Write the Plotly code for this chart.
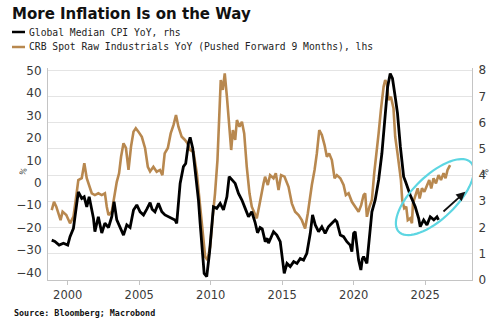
import math
import plotly.graph_objects as go

# ---------------- data ----------------
cpi_year = [1998.88, 1999.1, 1999.4, 1999.7, 2000.0, 2000.16, 2000.4, 2000.63, 2000.74, 2000.98,
            2001.15, 2001.33, 2001.5, 2001.8, 2001.9, 2002.14, 2002.38, 2002.6, 2002.85, 2003.08,
            2003.24, 2003.43, 2003.66, 2003.9, 2004.13, 2004.36, 2004.6, 2004.83, 2005.06, 2005.3,
            2005.53, 2005.76, 2005.9, 2006.1, 2006.34, 2006.58, 2006.8, 2007.04, 2007.27, 2007.5,
            2007.62, 2007.74, 2007.86, 2008.09, 2008.25, 2008.44, 2008.56, 2008.74, 2008.91, 2009.14,
            2009.26, 2009.37, 2009.54, 2009.72, 2009.91, 2010.07, 2010.19, 2010.42, 2010.66, 2010.89,
            2011.13, 2011.29, 2011.48, 2011.71, 2011.94, 2012.18, 2012.41, 2012.64, 2012.87, 2013.1,
            2013.27, 2013.45, 2013.6, 2013.81, 2013.95, 2014.04, 2014.39, 2014.62, 2014.86, 2015.02,
            2015.14, 2015.33, 2015.56, 2015.8, 2016.03, 2016.26, 2016.49, 2016.72, 2016.96, 2017.12,
            2017.31, 2017.54, 2017.77, 2018.0, 2018.23, 2018.47, 2018.7, 2018.82, 2019.06, 2019.29,
            2019.52, 2019.75, 2019.87, 2019.99, 2020.1, 2020.34, 2020.5, 2020.6, 2020.69, 2020.92,
            2021.04, 2021.27, 2021.5, 2021.74, 2021.97, 2022.2, 2022.37, 2022.55, 2022.71, 2022.9,
            2023.06, 2023.26, 2023.49, 2023.62, 2023.95, 2024.3, 2024.54, 2024.65, 2024.89, 2025.12,
            2025.35, 2025.6, 2025.82, 2025.93]
cpi_value = [1.52, 1.47, 1.33, 1.40, 1.33, 1.65, 1.97, 2.79, 3.36, 3.11,
             3.17, 2.79, 3.17, 2.35, 1.84, 2.41, 1.79, 2.17, 2.00, 2.41,
             2.98, 2.29, 2.03, 1.71, 2.10, 2.00, 2.67, 2.86, 2.60, 2.48,
             2.70, 2.95, 2.70, 2.60, 2.92, 2.60, 2.48, 2.41, 2.35, 2.29,
             2.16, 2.92, 3.68, 4.32, 4.44, 5.21, 5.44, 5.02, 4.19, 3.05,
             2.16, 1.27, 0.25, 0.13, 1.02, 2.03, 2.79, 2.73, 2.92, 2.67,
             3.17, 3.94, 3.81, 3.68, 3.30, 3.05, 2.73, 2.41, 2.60, 2.20,
             1.80, 2.00, 1.95, 1.46, 1.59, 1.40, 1.84, 1.71, 1.46, 0.63,
             0.25, 0.63, 0.51, 0.70, 0.63, 0.82, 0.76, 1.02, 1.78, 2.48,
             2.10, 1.84, 2.03, 1.78, 2.03, 2.16, 2.29, 2.22, 1.71, 1.65,
             1.46, 1.33, 1.08, 1.78, 1.84, 0.76, 0.38, 0.80, 0.89, 0.63,
             1.27, 2.60, 3.05, 3.81, 4.83, 6.22, 7.36, 7.87, 7.68, 6.98,
             6.35, 5.08, 3.94, 3.75, 3.24, 2.79, 2.35, 2.03, 2.29, 2.10,
             2.41, 2.29, 2.41, 2.29]

crb_year = [1998.88, 1999.04, 1999.2, 1999.36, 1999.5, 1999.64, 1999.9, 2000.16, 2000.4, 2000.56,
            2000.74, 2000.98, 2001.16, 2001.33, 2001.5, 2001.68, 2001.9, 2002.14, 2002.38, 2002.6,
            2002.73, 2002.85, 2003.08, 2003.3, 2003.43, 2003.59, 2003.73, 2003.9, 2004.07, 2004.25,
            2004.43, 2004.6, 2004.76, 2004.94, 2005.18, 2005.41, 2005.6, 2005.76, 2005.99, 2006.22,
            2006.45, 2006.62, 2006.78, 2007.0, 2007.2, 2007.4, 2007.57, 2007.74, 2007.97, 2008.2,
            2008.37, 2008.56, 2008.79, 2009.03, 2009.26, 2009.45, 2009.61, 2009.77, 2009.96, 2010.14,
            2010.3, 2010.47, 2010.59, 2010.7, 2010.84, 2010.98, 2011.13, 2011.29, 2011.43, 2011.55,
            2011.71, 2011.83, 2012.01, 2012.18, 2012.34, 2012.52, 2012.71, 2012.87, 2013.03, 2013.22,
            2013.4, 2013.53, 2013.69, 2013.8, 2013.99, 2014.15, 2014.39, 2014.55, 2014.74, 2014.92,
            2015.16, 2015.44, 2015.67, 2015.9, 2016.14, 2016.37, 2016.6, 2016.79, 2016.96, 2017.07,
            2017.26, 2017.42, 2017.59, 2017.77, 2017.96, 2018.12, 2018.28, 2018.47, 2018.66, 2018.82,
            2019.06, 2019.29, 2019.45, 2019.64, 2019.87, 2020.1, 2020.34, 2020.52, 2020.69, 2020.8,
            2020.92, 2021.1, 2021.27, 2021.43, 2021.57, 2021.74, 2021.9, 2022.09, 2022.2, 2022.32,
            2022.43, 2022.6, 2022.78, 2022.9, 2023.06, 2023.2, 2023.3, 2023.39, 2023.53, 2023.67,
            2023.78, 2023.95, 2024.07, 2024.14, 2024.3, 2024.47, 2024.61, 2024.77, 2024.94, 2025.12,
            2025.28, 2025.42, 2025.58, 2025.75, 2025.93, 2026.1, 2026.28, 2026.42, 2026.56, 2026.74]
crb_value = [-12.2, -8.5, -10.7, -14.4, -16.7, -12.9, -14.4, -18.1, -15.1, -7.7,
             1.2, 2.0, 8.7, 2.0, -1.0, -4.7, -5.5, -4.7, -5.5, -4.7,
             -10.7, -14.4, -12.9, -4.7, 0.4, 4.2, 11.6, 17.6, 15.5, 5.7,
             16.3, 22.8, 24.3, 22.8, 20.5, 15.4, 7.1, 5.0, 7.1, 4.9,
             5.7, 3.4, 13.1, 15.5, 22.0, 25.8, 30.2, 25.0, 20.5, 19.1,
             17.6, 14.6, 13.8, 4.2, -10.7, -22.6, -33.0, -34.5, -28.6, -15.2,
             -4.7, 10.1, 32.5, 45.8, 41.4, 48.8, 38.4, 23.5, 14.6, 23.5,
             19.1, 28.0, 25.0, 27.2, 22.0, 7.1, -4.7, -10.7, -13.0, -15.9,
             -10.0, -4.7, -0.3, 2.7, -1.0, 3.4, 2.0, 4.2, -3.3, 3.4,
             2.7, -1.8, -9.2, -12.9, -14.4, -16.7, -20.4, -13.6, -4.7, -1.0,
             5.7, 13.1, 23.5, 21.3, 16.8, 11.6, 13.1, 10.1, 2.0, 3.4,
             2.0, -1.0, -5.5, -4.7, -8.5, -10.7, -12.9, -10.0, -5.5, -4.7,
             -15.2, -10.7, -7.7, 4.2, 11.6, 22.0, 32.5, 42.9, 45.8, 44.4,
             36.9, 38.4, 33.2, 20.5, 13.1, 5.7, 1.2, -7.7, -11.4, -10.7,
             -16.7, -15.9, -18.1, -9.2, -6.2, -2.5, -7.0, -2.5, -4.0, -1.0,
             1.2, -2.5, 2.0, -0.3, 3.4, 1.2, 4.2, 2.0, 5.7, 7.9]

x_ticks = [2000, 2005, 2010, 2015, 2020, 2025]
left_ticks = [50, 40, 30, 20, 10, 0, -10, -20, -30, -40]
right_ticks = [0, 1, 2, 3, 4, 5, 6, 7, 8]

title_text = "More Inflation Is on the Way"
cpi_name = "Global Median CPI YoY, rhs"
crb_name = "CRB Spot Raw Industrials YoY (Pushed Forward 9 Months), lhs"
source_text = "Source: Bloomberg; Macrobond"

# ---------------- layout geometry ----------------
W, H = 500, 322
ML, MR, MT, MB = 48, 28, 68, 42
PW, PH = W - ML - MR, H - MT - MB
x_range = [1998.62, 2028.27]
yl_range = [-43.4, 51.2]
yr_range = [0, 8.08]

BLACK = "#000000"
BROWN = "#b8884f"
CYAN = "#5dd6e2"
X_TICK_FONT = dict(family="DejaVu Sans", size=11.5, color="#3a3a3a")
Y_TICK_FONT = dict(family="DejaVu Sans", size=12, color="#3a3a3a")


def paper_x(px):
    return (px - ML) / PW


def paper_y(py):
    return (H - MB - py) / PH


fig = go.Figure()
fig.add_trace(go.Scatter(x=crb_year, y=crb_value, mode="lines", name=crb_name,
                         line=dict(color=BROWN, width=2.6), yaxis="y"))
fig.add_trace(go.Scatter(x=cpi_year, y=cpi_value, mode="lines", name=cpi_name,
                         line=dict(color=BLACK, width=2.8), yaxis="y2"))

fig.update_layout(
    width=W, height=H,
    margin=dict(l=ML, r=MR, t=MT, b=MB, pad=0),
    paper_bgcolor="white", plot_bgcolor="white",
    showlegend=False,
    title=dict(text="<b>" + title_text + "</b>", x=12 / W, xanchor="left", xref="container",
               y=1 - 14 / H, yanchor="middle", yref="container",
               font=dict(family="DejaVu Sans", size=15, color="#111111")),
    xaxis=dict(range=x_range, tickvals=x_ticks, ticktext=[str(t) for t in x_ticks],
               showgrid=False, showline=True, linecolor="#c4c4c4", linewidth=1,
               ticks="outside", ticklen=4, tickcolor="#c4c4c4", tickfont=X_TICK_FONT,
               zeroline=False, fixedrange=True),
    yaxis=dict(range=yl_range, tickvals=left_ticks, showgrid=False, showline=True,
               linecolor="#c4c4c4", linewidth=1, ticks="", tickfont=Y_TICK_FONT,
               zeroline=False, ticklabelstandoff=3),
    yaxis2=dict(range=yr_range, tickvals=right_ticks, overlaying="y", side="right",
                showgrid=True, gridcolor="#e4e4e4", gridwidth=1, showline=True,
                linecolor="#c4c4c4", linewidth=1, ticks="", tickfont=Y_TICK_FONT,
                zeroline=False, ticklabelstandoff=3),
)

# legend (drawn as text + short line samples)
legend_rows = [(cpi_name, BLACK, 32), (crb_name, BROWN, 47)]
for name, col, py in legend_rows:
    fig.add_shape(type="line", xref="paper", yref="paper",
                  x0=paper_x(12), x1=paper_x(25), y0=paper_y(py), y1=paper_y(py),
                  line=dict(color=col, width=2.5))
    fig.add_annotation(text=name, xref="paper", yref="paper", x=paper_x(27), y=paper_y(py),
                       xanchor="left", yanchor="middle", showarrow=False,
                       font=dict(family="DejaVu Sans Mono", size=9.7, color="#222222"))

# source
fig.add_annotation(text="<b>" + source_text + "</b>", xref="paper", yref="paper",
                   x=paper_x(12), y=paper_y(313), xanchor="left", yanchor="middle",
                   showarrow=False, font=dict(family="DejaVu Sans Mono", size=8.4, color="#111111"))

# axis unit labels
fig.add_annotation(text="%", xref="paper", yref="paper", x=paper_x(15), y=paper_y(171),
                   showarrow=False, textangle=-70,
                   font=dict(family="DejaVu Sans", size=8, color="#333333"))
fig.add_annotation(text="%", xref="paper", yref="paper", x=paper_x(493), y=paper_y(172),
                   showarrow=False, textangle=-70,
                   font=dict(family="DejaVu Sans", size=8, color="#333333"))

# highlight ellipse (centre in data units, size in pixels)
x_per_px = (x_range[1] - x_range[0]) / PW
y_per_px = (yr_range[1] - yr_range[0]) / PH
ell_cx, ell_cy = 2025.67, 3.16
ell_a, ell_b, ell_ang = 50, 21.5, math.radians(44)
pts = []
for i in range(0, 73):
    t = 2 * math.pi * i / 72
    dx = ell_a * math.cos(t) * math.cos(ell_ang) - ell_b * math.sin(t) * math.sin(ell_ang)
    dy = ell_a * math.cos(t) * math.sin(ell_ang) + ell_b * math.sin(t) * math.cos(ell_ang)
    pts.append((ell_cx + dx * x_per_px, ell_cy + dy * y_per_px))
path = "M " + " L ".join(f"{x:.4f},{y:.4f}" for x, y in pts) + " Z"
fig.add_shape(type="path", path=path, xref="x", yref="y2",
              line=dict(color=CYAN, width=2.2))

# arrow
fig.add_annotation(x=2027.8, y=3.36, ax=2026.17, ay=2.56, xref="x", yref="y2",
                   axref="x", ayref="y2", text="", showarrow=True,
                   arrowhead=2, arrowsize=1, arrowwidth=1.8, arrowcolor="#111111")

fig.write_html("out.html")
